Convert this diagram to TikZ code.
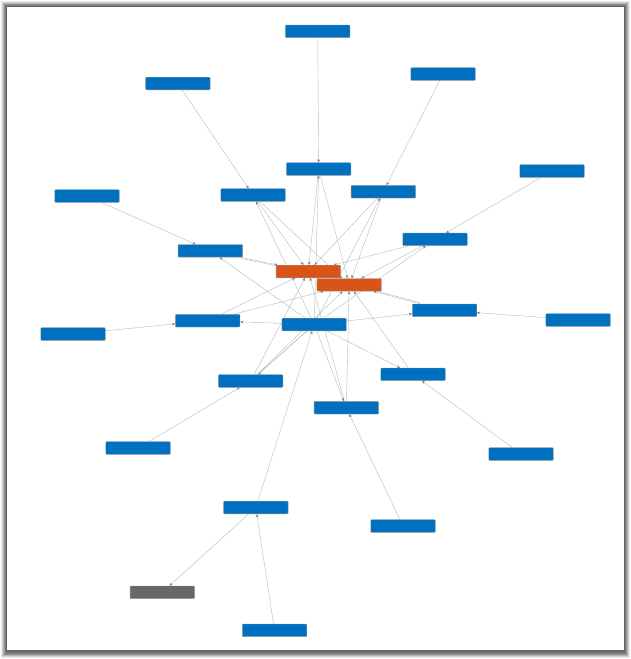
\documentclass[tikz,border=0pt]{standalone}
\usetikzlibrary{arrows.meta,backgrounds}
\definecolor{nblue}{RGB}{0,112,192}
\definecolor{norange}{RGB}{216,84,25}
\definecolor{ngray}{RGB}{104,104,104}
\definecolor{nborder}{RGB}{150,150,150}
\definecolor{eline}{RGB}{186,186,186}
\definecolor{etip}{RGB}{130,130,130}
\tikzset{
  box/.style={rectangle, draw=nborder, line width=0.4pt, minimum width=64.5pt,
    minimum height=12.6pt, inner sep=0pt, rounded corners=0.8pt},
  bluebox/.style={box, fill=nblue},
  orangebox/.style={box, fill=norange},
  graybox/.style={box, fill=ngray},
  edge/.style={draw=eline, line width=0.4pt,
    -{Stealth[length=3.2pt,width=2.8pt,color=etip]}},
  plain/.style={draw=eline, line width=0.4pt},
}
\begin{document}
\begin{tikzpicture}[x=1pt,y=-1pt]
\useasboundingbox (0,0) rectangle (631,659);
% nodes
\node[bluebox] (T) at (317.7,31.3) {};
\node[bluebox] (A) at (177.8,83.5) {};
\node[bluebox] (B) at (443,74) {};
\node[bluebox] (C) at (318.7,169) {};
\node[bluebox] (D) at (253,195) {};
\node[bluebox] (E) at (383.3,191.7) {};
\node[bluebox] (F) at (552,171) {};
\node[bluebox] (G) at (87,196) {};
\node[bluebox] (H) at (210.3,250.8) {};
\node[bluebox] (I) at (435,239.3) {};
\node[orangebox] (O1) at (308.3,271.5) {};
\node[orangebox] (O2) at (349.2,284.8) {};
\node[bluebox] (J) at (444.5,310.3) {};
\node[bluebox] (K) at (578,320) {};
\node[bluebox] (L) at (73,334) {};
\node[bluebox] (M) at (207.7,320.7) {};
\node[bluebox] (N) at (314.2,324.5) {};
\node[bluebox] (P) at (250.7,381) {};
\node[bluebox] (Q) at (413,374.3) {};
\node[bluebox] (R) at (346.3,407.7) {};
\node[bluebox] (S) at (138,448) {};
\node[bluebox] (U) at (521,454) {};
\node[bluebox] (V) at (255.8,507.5) {};
\node[bluebox] (W) at (403,526) {};
\node[graybox] (X) at (162.3,592.3) {};
\node[bluebox] (Y) at (274.5,630.3) {};
\begin{scope}[on background layer]
% frame: soft shadow made of nested fills
\fill[white] (0,0) rectangle (631,659);
\fill[black!8]  (1,1) rectangle (630,658);
\fill[black!18] (2,2) rectangle (629,657);
\fill[black!30] (3,3) rectangle (628,656);
\fill[black!42] (4,4) rectangle (627,655);
\fill[black!52] (5,5) rectangle (625.8,653.5);
\fill[black!60] (6,6) rectangle (624.5,651.5);
\fill[white] (7,7) rectangle (623.5,650.3);
% outer edges
\draw[edge] (T) -- (C);
\draw[edge] (A) -- (D);
\draw[edge] (B) -- (E);
\draw[edge] (F) -- (I);
\draw[edge] (G) -- (H);
\draw[edge] (K) -- (J);
\draw[edge] (L) -- (M);
\draw[edge] (S) -- (P);
\draw[edge] (U) -- (Q);
\draw[edge] (W) -- (R);
\draw[edge] (V) -- (N);
\draw[edge] (Y) -- (V);
\draw[edge] (V) -- (X);
% double edges
\draw[edge] (H) -- (O1);
\draw[plain, transform canvas={yshift=-1.1pt}] (H) -- (O1);
\draw[edge] (J) -- (O2);
\draw[plain, transform canvas={yshift=1.1pt}] (J) -- (O2);
\draw[edge] (N) -- (P);
\draw[plain, transform canvas={xshift=1.1pt,yshift=1.1pt}] (N) -- (P);
% centre edges
\draw[edge] (N) -- (H);
\draw[edge] (N) -- (M);
\draw[edge] (M) -- (O1);
\draw[edge] (M) -- (O2);
\draw[edge] (N) -- (J);
\draw[edge] (N) -- (Q);
\draw[edge] (Q) -- (O2);
\draw[edge] (R) -- (O2);
\draw[edge] (R) -- (O1);
\draw[edge] (N) -- (R);
\draw[edge] (N) -- (D);
\draw[edge] (D) -- (O1);
\draw[edge] (D) -- (O2);
\draw[edge] (C) -- (O1);
\draw[edge] (C) -- (O2);
\draw[edge] (N) -- (C);
\draw[edge] (E) -- (O1);
\draw[edge] (E) -- (O2);
\draw[edge] (N) -- (E);
\draw[edge] (I) -- (O1);
\draw[edge] (I) -- (O2);
\draw[edge] (N) -- (I);
\draw[edge] (P) -- (O1);
\draw[edge] (P) -- (O2);
\end{scope}
\end{tikzpicture}
\end{document}
